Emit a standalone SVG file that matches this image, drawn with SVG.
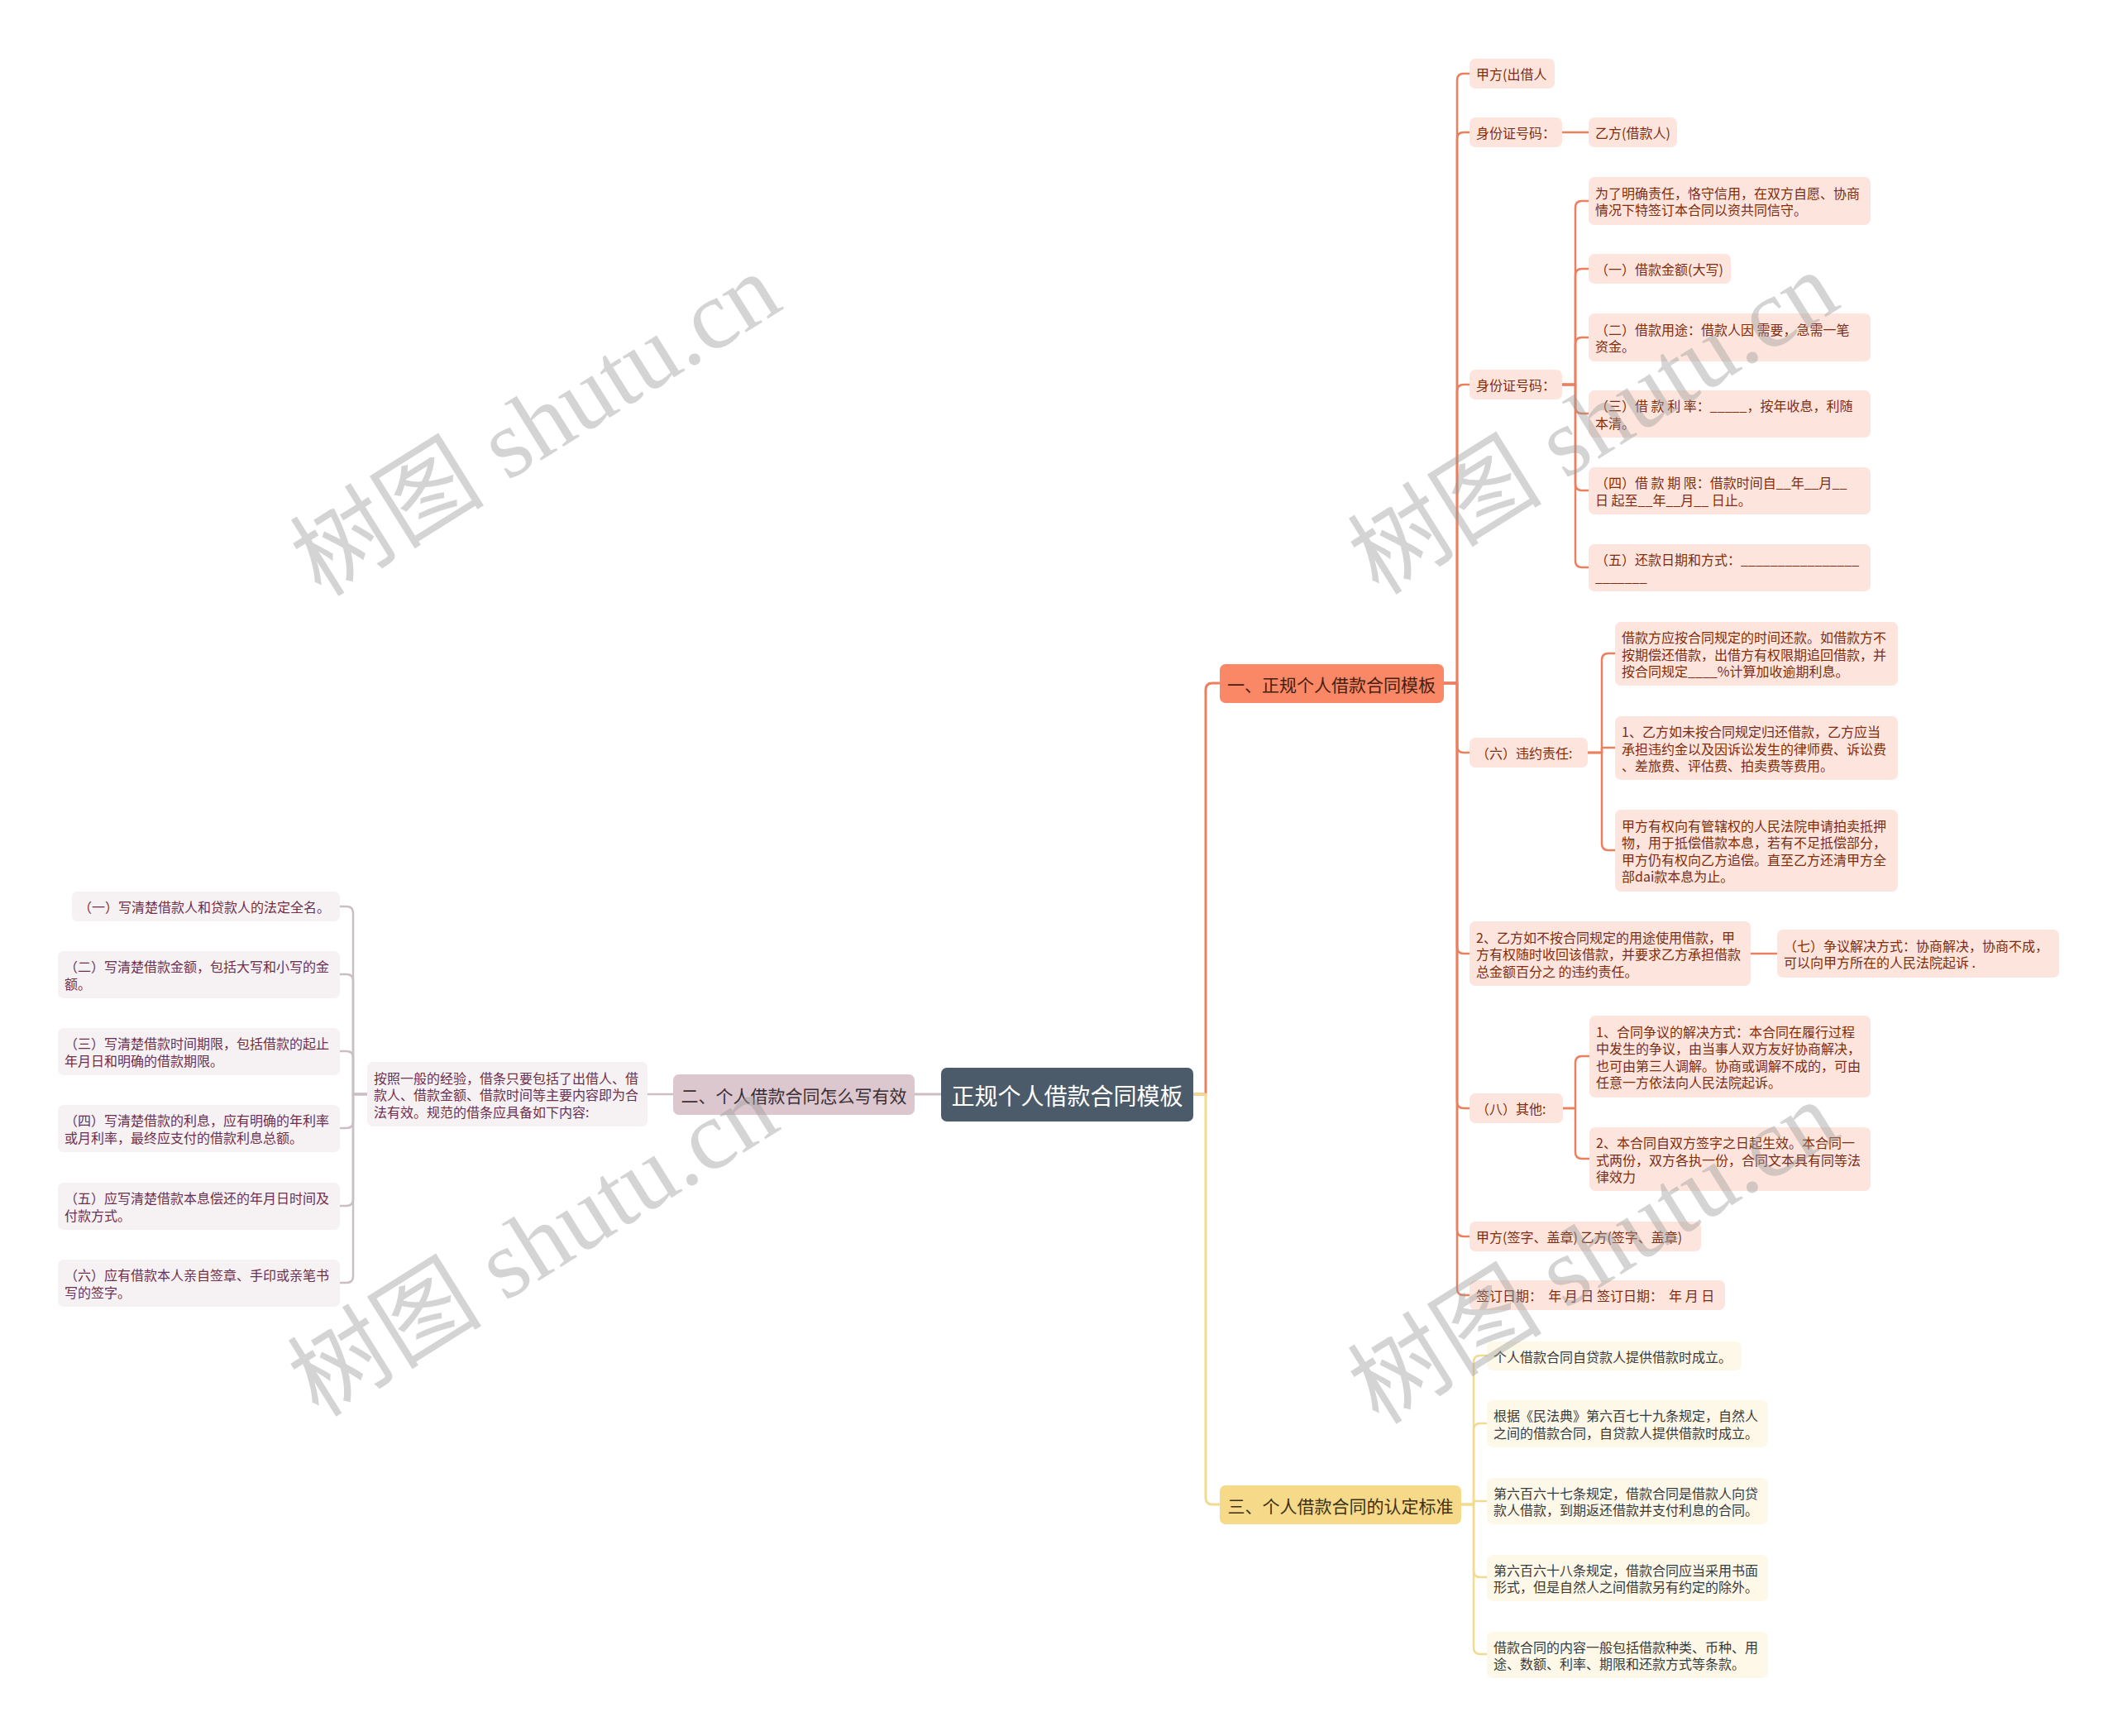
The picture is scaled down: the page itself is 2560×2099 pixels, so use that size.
<svg xmlns="http://www.w3.org/2000/svg" width="2560" height="2099" viewBox="0 0 2560 2099">
<style>
text{font-family:"Noto Sans CJK SC","Liberation Sans",sans-serif;white-space:pre;dominant-baseline:central}
.lo rect{fill:#fde5dd}
.lo text{fill:#7c2d12;font-size:16px}
.ly rect{fill:#fdf8e8}
.ly text{fill:#3a3a3a;font-size:16px}
.lg rect{fill:#f6f1f3}
.lg text{fill:#6e2f4d;font-size:16px}
.br text{font-size:21px;text-anchor:middle}
.co{fill:none;stroke-linecap:round;stroke-linejoin:round}
.co-o{stroke:#eb805f}
.co-y{stroke:#f2da8e}
.co-g{stroke:#cbbfc5}
.wm{font-family:"Liberation Serif","Noto Sans CJK SC",serif;font-size:118px;fill:#9a9a9a;opacity:0.42;text-anchor:middle}
</style>
<rect x="0" y="0" width="2560" height="2099" fill="#ffffff"/>
<g id="connectors" class="co">
  <path class="co-o" stroke-width="3" d="M1443 1323 H1458 V834 Q1458 826 1466 826 H1475"/>
  <path class="co-y" stroke-width="3" d="M1443 1323 H1458 V1811 Q1458 1819 1466 1819 H1475"/>
  <path class="co-g" stroke-width="3" d="M1138 1323 H1106"/>
  <path class="co-g" stroke-width="2.5" d="M814 1323 H783"/>
  <g class="co-g" stroke-width="2.5">
    <path d="M444 1323 H427 V1104 Q427 1096 419 1096 H411"/>
    <path d="M444 1323 H427 V1186 Q427 1178 419 1178 H411"/>
    <path d="M444 1323 H427 V1279 Q427 1271 419 1271 H411"/>
    <path d="M444 1323 H427 V1356 Q427 1364 419 1364 H411"/>
    <path d="M444 1323 H427 V1450 Q427 1458 419 1458 H411"/>
    <path d="M444 1323 H427 V1543 Q427 1551 419 1551 H411"/>
  </g>
  <g class="co-o" stroke-width="2.5">
    <path d="M1745 826 H1762 V97 Q1762 89 1770 89 H1777"/>
    <path d="M1745 826 H1762 V168 Q1762 160 1770 160 H1777"/>
    <path d="M1745 826 H1762 V473 Q1762 465 1770 465 H1777"/>
    <path d="M1745 826 H1762 V902 Q1762 910 1770 910 H1777"/>
    <path d="M1745 826 H1762 V1145 Q1762 1153 1770 1153 H1777"/>
    <path d="M1745 826 H1762 V1332 Q1762 1340 1770 1340 H1777"/>
    <path d="M1745 826 H1762 V1487 Q1762 1495 1770 1495 H1777"/>
    <path d="M1745 826 H1762 V1558 Q1762 1566 1770 1566 H1777"/>
    <path d="M1889 160 H1921"/>
    <path d="M1889 465 H1905 V251 Q1905 243 1913 243 H1921"/>
    <path d="M1889 465 H1905 V333 Q1905 325 1913 325 H1921"/>
    <path d="M1889 465 H1905 V416 Q1905 408 1913 408 H1921"/>
    <path d="M1889 465 H1905 V492 Q1905 500 1913 500 H1921"/>
    <path d="M1889 465 H1905 V585 Q1905 593 1913 593 H1921"/>
    <path d="M1889 465 H1905 V678 Q1905 686 1913 686 H1921"/>
    <path d="M1920 910 H1937 V798 Q1937 790 1945 790 H1953"/>
    <path d="M1920 910 H1937 V904 H1953"/>
    <path d="M1920 910 H1937 V1020 Q1937 1028 1945 1028 H1953"/>
    <path d="M2117 1153 H2149"/>
    <path d="M1890 1340 H1905 V1285 Q1905 1277 1913 1277 H1922"/>
    <path d="M1890 1340 H1905 V1393 Q1905 1401 1913 1401 H1922"/>
  </g>
  <g class="co-y" stroke-width="2.5">
    <path d="M1766 1819 H1782 V1647 Q1782 1639 1790 1639 H1798"/>
    <path d="M1766 1819 H1782 V1729 Q1782 1721 1790 1721 H1798"/>
    <path d="M1766 1819 H1782 V1815 H1798"/>
    <path d="M1766 1819 H1782 V1899 Q1782 1907 1790 1907 H1798"/>
    <path d="M1766 1819 H1782 V1992 Q1782 2000 1790 2000 H1798"/>
  </g>
</g>

<g id="root">
  <rect x="1138" y="1291" width="305" height="65" rx="7" fill="#4b5b69"/>
  <text x="1290.5" y="1323.5" font-size="28" fill="#ffffff" text-anchor="middle">正规个人借款合同模板</text>
</g>

<g id="b1" class="br">
  <rect x="1475" y="803" width="271" height="47" rx="7" fill="#fa8866"/>
  <text x="1610" y="826.5" fill="#46200f">一、正规个人借款合同模板</text>
</g>
<g id="b2" class="br">
  <rect x="814" y="1299" width="292" height="49" rx="7" fill="#dcc7cf"/>
  <text x="960" y="1323.5" fill="#3a2f36">二、个人借款合同怎么写有效</text>
</g>
<g id="b3" class="br">
  <rect x="1475" y="1796" width="292" height="47" rx="7" fill="#f6da8a"/>
  <text x="1621" y="1819.5" fill="#3c3216">三、个人借款合同的认定标准</text>
</g>

<!-- left side -->
<g id="b2-intro" class="lg">
  <rect x="444" y="1284" width="339" height="78" rx="7"/>
  <text x="452" y="1302.5">按照一般的经验，借条只要包括了出借人、借</text>
  <text x="452" y="1323">款人、借款金额、借款时间等主要内容即为合</text>
  <text x="452" y="1343.5">法有效。规范的借条应具备如下内容:</text>
</g>
<g id="l1" class="lg">
  <rect x="87" y="1078" width="324" height="36" rx="7"/>
  <text x="95" y="1096">（一）写清楚借款人和贷款人的法定全名。</text>
</g>
<g id="l2" class="lg">
  <rect x="70" y="1150" width="341" height="57" rx="7"/>
  <text x="78" y="1168.3">（二）写清楚借款金额，包括大写和小写的金</text>
  <text x="78" y="1188.8">额。</text>
</g>
<g id="l3" class="lg">
  <rect x="70" y="1243" width="341" height="57" rx="7"/>
  <text x="78" y="1261.3">（三）写清楚借款时间期限，包括借款的起止</text>
  <text x="78" y="1281.8">年月日和明确的借款期限。</text>
</g>
<g id="l4" class="lg">
  <rect x="70" y="1336" width="341" height="57" rx="7"/>
  <text x="78" y="1354.3">（四）写清楚借款的利息，应有明确的年利率</text>
  <text x="78" y="1374.8">或月利率，最终应支付的借款利息总额。</text>
</g>
<g id="l5" class="lg">
  <rect x="70" y="1430" width="341" height="57" rx="7"/>
  <text x="78" y="1448.3">（五）应写清楚借款本息偿还的年月日时间及</text>
  <text x="78" y="1468.8">付款方式。</text>
</g>
<g id="l6" class="lg">
  <rect x="70" y="1523" width="341" height="57" rx="7"/>
  <text x="78" y="1541.3">（六）应有借款本人亲自签章、手印或亲笔书</text>
  <text x="78" y="1561.8">写的签字。</text>
</g>

<!-- branch 1 children -->
<g id="o1" class="lo">
  <rect x="1777" y="71" width="103" height="36" rx="7"/>
  <text x="1785" y="89">甲方(出借人</text>
</g>
<g id="o2" class="lo">
  <rect x="1777" y="142" width="112" height="36" rx="7"/>
  <text x="1785" y="160">身份证号码：</text>
</g>
<g id="o2a" class="lo">
  <rect x="1921" y="142" width="107" height="36" rx="7"/>
  <text x="1929" y="160">乙方(借款人)</text>
</g>
<g id="o3" class="lo">
  <rect x="1777" y="447" width="112" height="36" rx="7"/>
  <text x="1785" y="465">身份证号码：</text>
</g>
<g id="o3a" class="lo">
  <rect x="1921" y="214" width="341" height="58" rx="7"/>
  <text x="1929" y="232.8">为了明确责任，恪守信用，在双方自愿、协商</text>
  <text x="1929" y="253.3">情况下特签订本合同以资共同信守。</text>
</g>
<g id="o3b" class="lo">
  <rect x="1921" y="307" width="172" height="36" rx="7"/>
  <text x="1929" y="325">（一）借款金额(大写)</text>
</g>
<g id="o3c" class="lo">
  <rect x="1921" y="379" width="341" height="58" rx="7"/>
  <text x="1929" y="397.8">（二）借款用途：借款人因 需要，急需一笔</text>
  <text x="1929" y="418.3">资金。</text>
</g>
<g id="o3d" class="lo">
  <rect x="1921" y="472" width="341" height="57" rx="7"/>
  <text x="1929" y="490.3">（三）借 款 利 率：_____，按年收息，利随</text>
  <text x="1929" y="510.8">本清。</text>
</g>
<g id="o3e" class="lo">
  <rect x="1921" y="565" width="341" height="57" rx="7"/>
  <text x="1929" y="583.3">（四）借 款 期 限：借款时间自__年__月__</text>
  <text x="1929" y="603.8">日 起至__年__月__ 日止。</text>
</g>
<g id="o3f" class="lo">
  <rect x="1921" y="658" width="341" height="57" rx="7"/>
  <text x="1929" y="676.3">（五）还款日期和方式：________________</text>
  <text x="1929" y="696.8">_______</text>
</g>
<g id="o4" class="lo">
  <rect x="1777" y="892" width="143" height="36" rx="7"/>
  <text x="1785" y="910">（六）违约责任:</text>
</g>
<g id="o4a" class="lo">
  <rect x="1953" y="752" width="342" height="77" rx="7"/>
  <text x="1961" y="770">借款方应按合同规定的时间还款。如借款方不</text>
  <text x="1961" y="790.5">按期偿还借款，出借方有权限期追回借款，并</text>
  <text x="1961" y="811">按合同规定____%计算加收逾期利息。</text>
</g>
<g id="o4b" class="lo">
  <rect x="1953" y="866" width="342" height="77" rx="7"/>
  <text x="1961" y="884">1、乙方如未按合同规定归还借款，乙方应当</text>
  <text x="1961" y="904.5">承担违约金以及因诉讼发生的律师费、诉讼费</text>
  <text x="1961" y="925">、差旅费、评估费、拍卖费等费用。</text>
</g>
<g id="o4c" class="lo">
  <rect x="1953" y="979" width="342" height="99" rx="7"/>
  <text x="1961" y="997.8">甲方有权向有管辖权的人民法院申请拍卖抵押</text>
  <text x="1961" y="1018.3">物，用于抵偿借款本息，若有不足抵偿部分，</text>
  <text x="1961" y="1038.8">甲方仍有权向乙方追偿。直至乙方还清甲方全</text>
  <text x="1961" y="1059.3">部dai款本息为止。</text>
</g>
<g id="o5" class="lo">
  <rect x="1777" y="1114" width="340" height="78" rx="7"/>
  <text x="1785" y="1132.5">2、乙方如不按合同规定的用途使用借款，甲</text>
  <text x="1785" y="1153">方有权随时收回该借款，并要求乙方承担借款</text>
  <text x="1785" y="1173.5">总金额百分之 的违约责任。</text>
</g>
<g id="o5a" class="lo">
  <rect x="2149" y="1124" width="341" height="58" rx="7"/>
  <text x="2157" y="1142.8">（七）争议解决方式：协商解决，协商不成，</text>
  <text x="2157" y="1163.3">可以向甲方所在的人民法院起诉 .</text>
</g>
<g id="o6" class="lo">
  <rect x="1777" y="1322" width="113" height="36" rx="7"/>
  <text x="1785" y="1340">（八）其他:</text>
</g>
<g id="o6a" class="lo">
  <rect x="1922" y="1228" width="340" height="99" rx="7"/>
  <text x="1930" y="1246.8">1、合同争议的解决方式：本合同在履行过程</text>
  <text x="1930" y="1267.3">中发生的争议，由当事人双方友好协商解决，</text>
  <text x="1930" y="1287.8">也可由第三人调解。协商或调解不成的，可由</text>
  <text x="1930" y="1308.3">任意一方依法向人民法院起诉。</text>
</g>
<g id="o6b" class="lo">
  <rect x="1922" y="1363" width="340" height="77" rx="7"/>
  <text x="1930" y="1381">2、本合同自双方签字之日起生效。本合同一</text>
  <text x="1930" y="1401.5">式两份，双方各执一份，合同文本具有同等法</text>
  <text x="1930" y="1422">律效力</text>
</g>
<g id="o7" class="lo">
  <rect x="1777" y="1477" width="280" height="36" rx="7"/>
  <text x="1785" y="1495">甲方(签字、盖章) 乙方(签字、盖章)</text>
</g>
<g id="o8" class="lo">
  <rect x="1777" y="1548" width="309" height="36" rx="7"/>
  <text x="1785" y="1566">签订日期：  年 月 日 签订日期：  年 月 日</text>
</g>

<!-- branch 3 children -->
<g id="y1" class="ly">
  <rect x="1798" y="1622" width="308" height="35" rx="7"/>
  <text x="1806" y="1639.5">个人借款合同自贷款人提供借款时成立。</text>
</g>
<g id="y2" class="ly">
  <rect x="1798" y="1693" width="340" height="57" rx="7"/>
  <text x="1806" y="1711.3">根据《民法典》第六百七十九条规定，自然人</text>
  <text x="1806" y="1731.8">之间的借款合同，自贷款人提供借款时成立。</text>
</g>
<g id="y3" class="ly">
  <rect x="1798" y="1787" width="340" height="56" rx="7"/>
  <text x="1806" y="1804.8">第六百六十七条规定，借款合同是借款人向贷</text>
  <text x="1806" y="1825.3">款人借款，到期返还借款并支付利息的合同。</text>
</g>
<g id="y4" class="ly">
  <rect x="1798" y="1880" width="340" height="56" rx="7"/>
  <text x="1806" y="1897.8">第六百六十八条规定，借款合同应当采用书面</text>
  <text x="1806" y="1918.3">形式，但是自然人之间借款另有约定的除外。</text>
</g>
<g id="y5" class="ly">
  <rect x="1798" y="1973" width="340" height="56" rx="7"/>
  <text x="1806" y="1990.8">借款合同的内容一般包括借款种类、币种、用</text>
  <text x="1806" y="2011.3">途、数额、利率、期限和还款方式等条款。</text>
</g>

<g id="watermarks">
  <text class="wm" x="648" y="514" transform="rotate(-32 648 514)">树图 shutu.cn</text>
  <text class="wm" x="645" y="1506" transform="rotate(-32 645 1506)">树图 shutu.cn</text>
  <text class="wm" x="1927" y="512" transform="rotate(-32 1927 512)">树图 shutu.cn</text>
  <text class="wm" x="1927" y="1515" transform="rotate(-32 1927 1515)">树图 shutu.cn</text>
</g>
</svg>
